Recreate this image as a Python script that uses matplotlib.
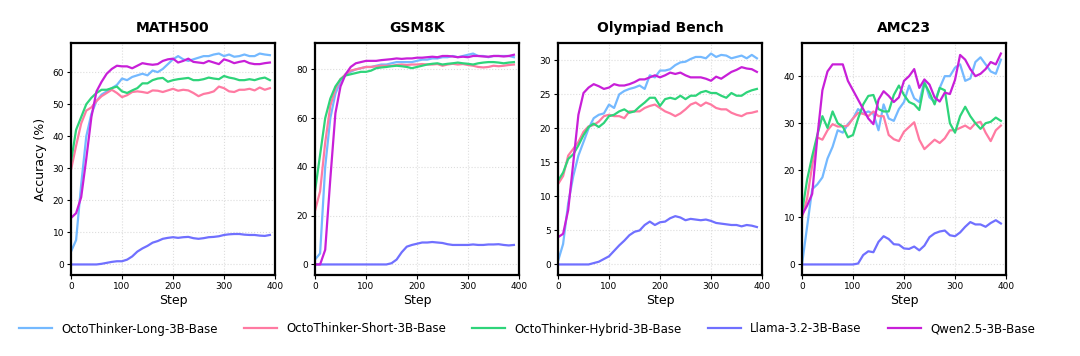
import matplotlib
matplotlib.use("Agg")
import matplotlib.pyplot as plt

steps = list(range(0, 400, 10))

series_names = ["OctoThinker-Long-3B-Base", "OctoThinker-Short-3B-Base",
                "OctoThinker-Hybrid-3B-Base", "Llama-3.2-3B-Base", "Qwen2.5-3B-Base"]
colors = ["#74b9ff", "#ff7aa2", "#2ed47a", "#7070ff", "#c81fd8"]
titles = ["MATH500", "GSM8K", "Olympiad Bench", "AMC23"]

# ---------------- MATH500 ----------------
math_long = [4, 7.6, 25, 40, 47, 51, 53, 54, 55, 56, 58, 57.5, 58.5, 59, 59.5, 59, 60.5, 60, 61, 62.5,
             64, 65, 64, 63.5, 64, 64.5, 65, 65, 65.5, 65.8, 65, 65.5, 64.8, 65, 65.5, 65, 65, 65.8, 65.5, 65.3]
math_short = [29.5, 37, 44, 48, 49, 51, 52.5, 53.5, 54.5, 53.5, 52.2, 52.8, 53.8, 54, 53.8, 53.5, 54.3, 54.2, 53.8, 54.3,
              54.8, 54.2, 54.5, 54.3, 53.5, 52.5, 53.2, 53.5, 54, 55.5, 55, 54, 53.8, 54.5, 54.5, 54.8, 54.3, 55.2, 54.5, 55]
math_hybrid = [32, 42, 46, 50, 52, 53.5, 54.5, 54.5, 55, 55.5, 54, 53.5, 54.3, 55, 56.5, 56.5, 57.5, 58, 58.2, 57,
               57.5, 57.8, 58, 58.2, 57.5, 57.5, 57.8, 58.3, 58, 57.8, 58.8, 58.3, 58, 57.5, 57.5, 57.8, 57.5, 58, 58.3, 57.5]
math_llama = [0, 0, 0, 0, 0, 0, 0.2, 0.5, 0.8, 1, 1, 1.5, 2.5, 4, 5, 5.8, 6.8, 7.3, 8, 8.3,
              8.5, 8.3, 8.5, 8.6, 8.2, 8, 8.2, 8.5, 8.6, 8.8, 9.2, 9.4, 9.5, 9.5, 9.3, 9.2, 9.2, 9, 8.9, 9.2]
math_qwen = [14.5, 16, 21, 33, 46, 54, 57, 59.5, 61, 62, 61.8, 61.8, 61.2, 62, 62.8, 62.5, 62.3, 62.5, 63.5, 64,
             64.2, 63, 63.5, 64.2, 63.2, 63, 62.8, 63.5, 63, 62.5, 64, 63.5, 62.8, 63.2, 63.5, 62.8, 62.5, 62.5, 62.8, 63]

# ---------------- GSM8K ----------------
gsm_long = [2, 4.5, 40, 60, 70, 75, 78, 79, 80, 80.5, 81, 81, 81.5, 82, 82, 82.5, 83, 83, 83, 83,
            83.5, 84, 84, 84.5, 84.5, 85, 85, 85.5, 85, 85.5, 86, 86.5, 85.5, 85.5, 85, 85.5, 85.5, 85.5, 85.5, 85]
gsm_short = [22, 30, 50, 65, 72, 76, 78, 79.5, 80, 80.5, 81, 81, 81.3, 81.5, 81.5, 81.5, 81.8, 82, 81.8, 82,
             82, 82.2, 82, 82, 82.2, 81.5, 82, 82.3, 82, 82.2, 81.8, 81.5, 81, 80.8, 81, 81.5, 81.3, 81.5, 81.8, 82]
gsm_hybrid = [30, 45, 60, 68, 73, 76, 77.5, 78, 78.5, 79, 79, 79.5, 80.5, 80.8, 81, 81.3, 81.5, 81.3, 81, 80.5,
              81, 81.5, 82, 82.3, 82.5, 82, 82.3, 82.5, 82.8, 82.5, 82.3, 82, 82.5, 82.8, 83, 83, 82.8, 82.5, 82.8, 83]
gsm_llama = [0, 0, 0, 0, 0, 0, 0, 0, 0, 0, 0, 0, 0, 0, 0, 0.5, 2, 5, 7.3, 8,
             8.5, 9, 9, 9.2, 9, 8.8, 8.3, 8, 8, 8, 8, 8.2, 8, 8, 8.2, 8.2, 8.3, 8, 7.8, 8]
gsm_qwen = [0, 0, 6, 35, 62, 73, 78, 81, 82.5, 83, 83.5, 83.5, 83.5, 83.8, 84, 84.2, 84.5, 84.3, 84.5, 84.5,
            84.8, 84.8, 85, 85.2, 85, 85.5, 85.5, 85.3, 85, 85.2, 85, 85.5, 85.5, 85.3, 85.2, 85.5, 85.5, 85.3, 85.5, 86]

# ---------------- Olympiad Bench ----------------
oly_long = [0.5, 3, 9, 13, 16, 18, 20, 21.5, 22, 22.2, 23.5, 23, 25, 25.5, 25.8, 26, 26.3, 25.8, 27.8, 27.5,
            28.5, 28.5, 28.7, 29.3, 29.7, 29.8, 30.2, 30.5, 30.5, 30.3, 31, 30.5, 30.8, 30.7, 30.3, 30.5, 30.7, 30.3, 30.8, 30.3]
oly_short = [11.8, 13, 16, 17, 18, 19.5, 20.3, 20.5, 21, 21.8, 22, 21.8, 21.8, 21.5, 22.5, 22.5, 22.5, 23, 23.3, 23.5,
             23, 22.5, 22.2, 21.8, 22.2, 22.8, 23.5, 23.8, 23.3, 23.8, 23.5, 23, 22.8, 22.8, 22.3, 22, 21.8, 22.2, 22.3, 22.5]
oly_hybrid = [12.3, 13.5, 15.5, 16.2, 17.5, 19, 20.2, 20.7, 20.2, 20.8, 21.8, 22, 22.5, 22.8, 22.3, 22.5, 23.2, 23.8, 24.5, 24.5,
              23.3, 24.3, 24.5, 24.3, 24.8, 24.3, 24.8, 24.8, 25.3, 25.5, 25.2, 25.2, 24.8, 24.5, 25.2, 24.8, 24.8, 25.3, 25.6, 25.8]
oly_llama = [0, 0, 0, 0, 0, 0, 0, 0.2, 0.4, 0.8, 1.2, 2, 2.8, 3.5, 4.3, 4.8, 5, 5.8, 6.3, 5.8,
             6.2, 6.3, 6.8, 7.1, 6.9, 6.5, 6.7, 6.6, 6.5, 6.6, 6.4, 6.1, 6, 5.9, 5.8, 5.8, 5.6, 5.8, 5.7, 5.5]
oly_qwen = [4, 4.5, 8, 15, 22, 25.2, 26, 26.5, 26.2, 25.8, 26, 26.5, 26.3, 26.3, 26.5, 26.8, 27.2, 27.2, 27.5, 27.8,
            27.5, 27.8, 28.2, 28, 28.2, 27.8, 27.5, 27.5, 27.5, 27.3, 27, 27.6, 27.3, 27.8, 28.3, 28.6, 29, 28.8, 28.7, 28.3]

# ---------------- AMC23 ----------------
amc_long = [0, 8, 16, 17, 18.5, 22.5, 25, 28.5, 28, 29.8, 31, 33, 32, 32.5, 32, 28.5, 34, 31, 30.5, 33,
            34.5, 38, 35.3, 34.5, 39, 35.5, 34.5, 37.5, 40, 40, 41.8, 42.5, 39, 39.5, 43, 44, 42.5, 41, 40.5, 43.5]
amc_short = [10, 14, 21, 27, 26.5, 28.5, 29.8, 29.3, 29.3, 29.5, 31, 32.2, 32, 31.5, 32.5, 31.5, 31.5, 27.5, 26.6, 26.2,
             28.2, 29.2, 30.2, 26.5, 24.5, 25.5, 26.5, 25.8, 26.8, 28.5, 28.5, 29, 29.5, 28.8, 30, 30.3, 28, 26.2, 28.5, 29.5]
amc_hybrid = [11, 18, 23, 27.5, 31.5, 29, 32.5, 30, 29.3, 27, 27.5, 31, 34, 35.8, 36, 33, 32.5, 32.5, 36, 38,
              36, 34.5, 34, 32.8, 38.5, 36.5, 34, 37.5, 37, 30, 28, 31.5, 33.5, 31.5, 30, 28.8, 30, 30.3, 31.2, 30.5]
amc_llama = [0, 0, 0, 0, 0, 0, 0, 0, 0, 0, 0, 0.2, 2, 2.8, 2.6, 4.8, 6, 5.4, 4.3, 4.2,
             3.4, 3.3, 3.8, 3, 4, 5.8, 6.6, 7, 7.2, 6.2, 6, 6.8, 8, 9, 8.5, 8.5, 8, 8.8, 9.4, 8.7]
amc_qwen = [10.5, 12.5, 15, 27, 37, 41, 42.5, 42.5, 42.5, 39, 37, 35, 33, 31, 29.8, 35, 36.8, 35.8, 34.5, 35.5,
            39, 40, 41.5, 37.5, 39.3, 38.2, 35.5, 34.6, 36.5, 36.2, 39.2, 44.5, 43.5, 41.5, 40, 40.5, 41.5, 43, 42.5, 44.8]

panels = [
    [math_long, math_short, math_hybrid, math_llama, math_qwen],
    [gsm_long, gsm_short, gsm_hybrid, gsm_llama, gsm_qwen],
    [oly_long, oly_short, oly_hybrid, oly_llama, oly_qwen],
    [amc_long, amc_short, amc_hybrid, amc_llama, amc_qwen],
]

plt.rcParams['font.family'] = ['DejaVu Sans']
fig = plt.figure(figsize=(10.8, 3.56), dpi=100)

lefts = [71, 315, 558, 802]
ax_w, ax_top, ax_bot = 204, 43, 275
W, H = 1080, 356

handles = []
for i, (title, data) in enumerate(zip(titles, panels)):
    ax = fig.add_axes([lefts[i] / W, 1 - ax_bot / H, ax_w / W, (ax_bot - ax_top) / H])
    for j, ys in enumerate(data):
        ln, = ax.plot(steps, ys, color=colors[j], lw=1.6, label=series_names[j])
        if i == 0:
            handles.append(ln)
    ax.set_xlim(0, 400)
    ax.set_xticks([0, 100, 200, 300, 400])
    ax.set_title(title, fontsize=10, fontweight='bold', pad=8)
    ax.set_xlabel("Step", fontsize=9, labelpad=2)
    if i == 0:
        ax.set_ylabel("Accuracy (%)", fontsize=9)
    ax.grid(True, linestyle=':', color='#dddddd', linewidth=0.8)
    ax.tick_params(labelsize=6.5, length=3, width=0.8, pad=2)
    for s in ax.spines.values():
        s.set_linewidth(1.6)
        s.set_color('black')

fig.legend(handles=handles, labels=series_names, loc='center', bbox_to_anchor=(527 / W, 1 - 329 / H),
           ncol=5, frameon=False, fontsize=8.5, handlelength=2.8, handletextpad=0.8, columnspacing=2.2)

fig.savefig("out.png", dpi=100)
